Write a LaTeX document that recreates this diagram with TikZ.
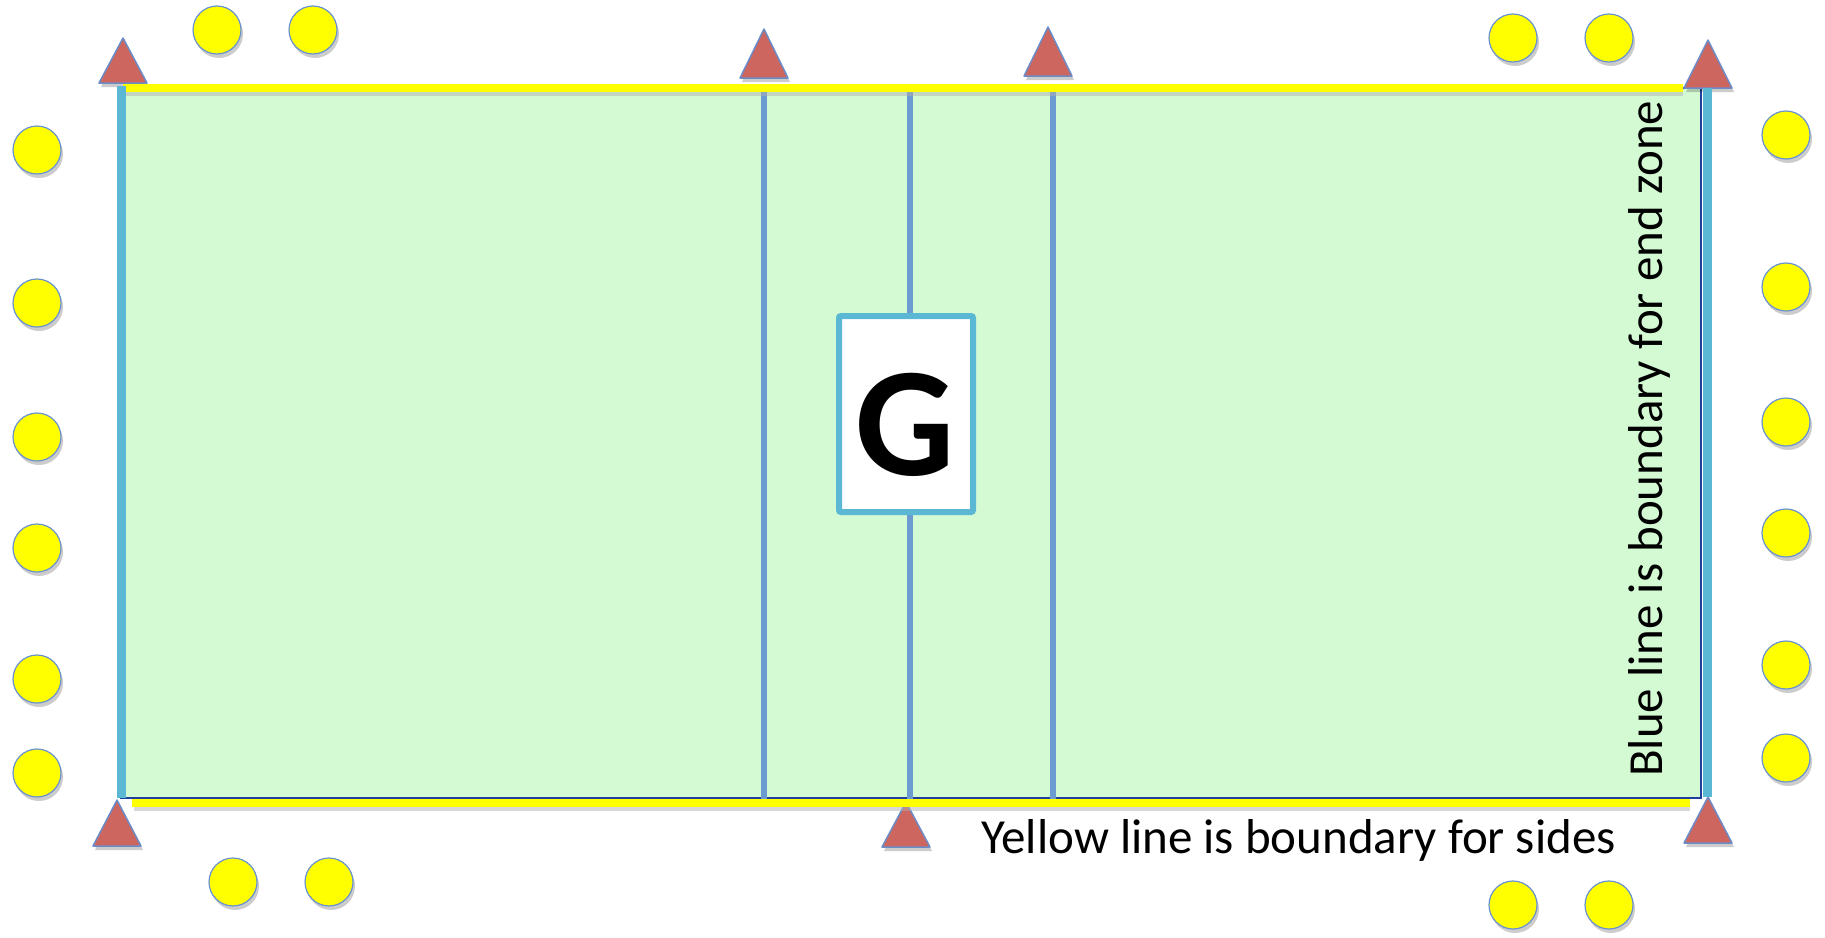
\documentclass[tikz,border=0pt]{standalone}
\usepackage{fontspec}
\setmainfont{Carlito}
\usetikzlibrary{shadows}
\definecolor{fieldgreen}{HTML}{D4FAD4}
\definecolor{fieldedge}{HTML}{1F3F9A}
\definecolor{endblue}{HTML}{5BB8D4}
\definecolor{zoneblue}{HTML}{6B9BD0}
\definecolor{sideyellow}{HTML}{FFFF00}
\definecolor{conered}{HTML}{CC665E}
\definecolor{coneedge}{HTML}{6C8CC8}
\definecolor{playeredge}{HTML}{6A92CF}
\tikzset{
        f_shade/.style={drop shadow={shadow xshift=2pt, shadow yshift=-4pt, fill=black, opacity=0.2}},
        f_player/.style={circle, minimum size=48pt, inner sep=0pt, fill=sideyellow,
                         draw=playeredge, line width=1.2pt, f_shade},
        f_cone/.style={fill=conered, draw=coneedge, line width=1.5pt, line join=round, f_shade},
        f_side/.style={draw=sideyellow, line width=8pt},
        f_side_shade/.style={draw=black!30, line width=5pt, opacity=0.5},
        f_end/.style={draw=endblue, line width=9pt},
        f_div/.style={draw=zoneblue, line width=6pt},
        note_text/.style={inner sep=0pt, font=\fontsize{49}{54}\selectfont}
    }

\begin{document}
\begin{tikzpicture}[x=1pt, y=-1pt]
    \useasboundingbox (0,0) rectangle (1825,937);
    % field and zone lines
    \draw[fill=fieldgreen, draw=fieldedge, line width=2pt] (121,88) rectangle (1701,798);
    \foreach \x in {764,910,1053}
        \draw[f_div] (\x,90) -- (\x,801);
    % cones
    \foreach \ax/\ay/\by in {123/38/83, 764/29/78, 1048/27/76, 1708/40/88,
                             117/800/846, 906/802/847, 1708/797/843}
        \draw[f_cone] (\ax,\ay) -- (\ax+24,\by) -- (\ax-24,\by) -- cycle;
    % boundaries
    \draw[f_side_shade] (125,93) -- (1683,93);
    \draw[f_side_shade] (134,808) -- (1690,808);
    \draw[f_side] (123,88) -- (1683,88);
    \draw[f_side] (132,803) -- (1690,803);
    \draw[f_end] (121,86) -- (121,798);
    \draw[f_end] (1707,88) -- (1707,797);
    % goal
    \node[draw=endblue, line width=6pt, fill=white, rounded corners=2pt, inner sep=0pt,
          minimum width=134pt, minimum height=196pt] (goal) at (906,414) {};
    \node[inner sep=0pt, font=\fontsize{156}{156}\selectfont\bfseries]
        (goaltag) at ([xshift=-1pt, yshift=-11pt]goal.center) {G};
    % players
    \foreach \y [count=\i] in {150,303,437,548,679,773}
        \node[f_player] (west\i) at (37,\y) {};
    \foreach \y [count=\i] in {135,287,422,533,665,758}
        \node[f_player] (east\i) at (1786,\y) {};
    \foreach \x/\y [count=\i] in {217/30, 313/30, 1513/38, 1609/38,
                                  233/882, 329/882, 1513/905, 1609/905}
        \node[f_player] (side\i) at (\x,\y) {};
    % notes
    \node[note_text, anchor=base west] (sidenote) at (981,853) {Yellow line is boundary for sides};
    \node[note_text, anchor=base west, rotate=90] (endnote) at (1662,777) {Blue line is boundary for end zone};
\end{tikzpicture}
\end{document}
